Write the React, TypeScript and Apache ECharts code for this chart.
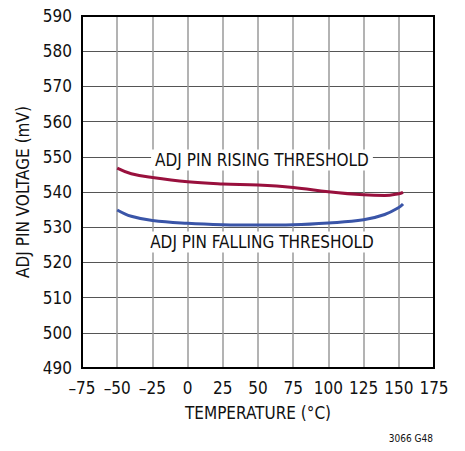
import React, { useEffect, useRef } from "react";
import * as echarts from "echarts";

const temps = [-50, -40, -25, 0, 25, 50, 75, 100, 125, 140, 150, 153];
const rising = [546.8, 545.2, 544.1, 542.9, 542.3, 542.0, 541.3, 540.1, 539.2, 539.0, 539.5, 539.9];
const falling = [534.9, 533.1, 531.9, 531.1, 530.7, 530.6, 530.7, 531.2, 532.1, 533.6, 535.6, 536.6];
const risingLabel = "ADJ PIN RISING THRESHOLD";
const fallingLabel = "ADJ PIN FALLING THRESHOLD";
const xName = "TEMPERATURE (°C)";
const yName = "ADJ PIN VOLTAGE (mV)";
const note = "3066 G48";

const FONT = "'Liberation Sans Narrow', 'DejaVu Sans Condensed', 'Roboto Condensed', Arial, sans-serif";

export default function App() {
  const ref = useRef<HTMLDivElement>(null);
  useEffect(() => {
    const chart = echarts.init(ref.current!, null, { renderer: "svg" });
    chart.setOption({
      animation: false,
      backgroundColor: "#fff",
      grid: { left: 82, right: 31, top: 16, bottom: 83, containLabel: false },
      xAxis: {
        type: "value",
        min: -75,
        max: 175,
        interval: 25,
        name: xName,
        nameLocation: "middle",
        nameGap: 36,
        nameTextStyle: { fontFamily: FONT, fontSize: 17, color: "#111" },
        axisLine: { show: false },
        axisTick: { show: false },
        axisLabel: {
          fontFamily: FONT,
          fontSize: 17,
          color: "#111",
          margin: 11,
          formatter: (v: number) => (v < 0 ? "\u2013" + Math.abs(v) : String(v)),
        },
        splitLine: { show: true, lineStyle: { color: "#9a9a9a", width: 1.5 } },
      },
      yAxis: {
        type: "value",
        min: 490,
        max: 590,
        interval: 10,
        name: yName,
        nameLocation: "middle",
        nameGap: 49,
        nameTextStyle: { fontFamily: FONT, fontSize: 17, color: "#111" },
        axisLine: { show: false },
        axisTick: { show: false },
        axisLabel: { fontFamily: FONT, fontSize: 17, color: "#111", margin: 10 },
        splitLine: { show: true, lineStyle: { color: "#555", width: 1.2 } },
      },
      graphic: [
        {
          type: "rect",
          shape: { x: 82, y: 16, width: 352, height: 352 },
          style: { fill: "none", stroke: "#000", lineWidth: 2 },
          z: 10,
        },
        {
          type: "text",
          x: 262,
          y: 160,
          style: {
            text: risingLabel,
            font: `17px ${FONT}`,
            fill: "#111",
            align: "center",
            verticalAlign: "middle",
            backgroundColor: "#fff",
            padding: [2, 4],
          },
          z: 20,
        },
        {
          type: "text",
          x: 262,
          y: 242,
          style: {
            text: fallingLabel,
            font: `17px ${FONT}`,
            fill: "#111",
            align: "center",
            verticalAlign: "middle",
            backgroundColor: "#fff",
            padding: [2, 4],
          },
          z: 20,
        },
        {
          type: "text",
          x: 433,
          y: 438,
          style: {
            text: note,
            font: `10px ${FONT}`,
            fill: "#111",
            align: "right",
            verticalAlign: "middle",
          },
        },
      ],
      series: [
        {
          type: "line",
          data: temps.map((t, i) => [t, rising[i]]),
          smooth: 0.4,
          showSymbol: false,
          lineStyle: { color: "#99103d", width: 3 },
          z: 5,
        },
        {
          type: "line",
          data: temps.map((t, i) => [t, falling[i]]),
          smooth: 0.4,
          showSymbol: false,
          lineStyle: { color: "#3a55a8", width: 3 },
          z: 5,
        },
      ],
    });
    return () => chart.dispose();
  }, []);
  return <div ref={ref} style={{ width: 465, height: 451, margin: -8 }} />;
}
